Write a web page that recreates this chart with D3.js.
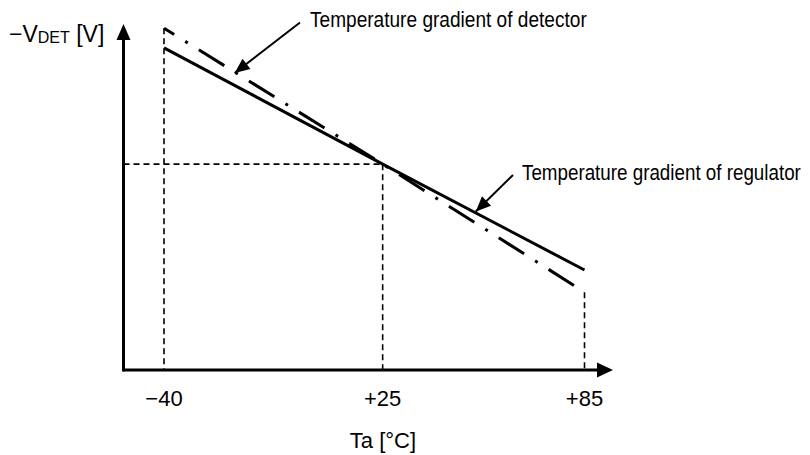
<!DOCTYPE html>
<html>
<head>
<meta charset="utf-8">
<script src="https://cdn.jsdelivr.net/npm/d3@7"></script>
<style>
  html, body { margin: 0; padding: 0; background: #fff; }
  svg { display: block; font-family: "Liberation Sans", Arial, sans-serif; }
</style>
</head>
<body>
<svg id="chart" width="810" height="455"></svg>
<script>
// ---- data ----
const temperatures = [-40, 25, 85];
const tickLabels = ["\u221240", "+25", "+85"];
const regulator = [93.1, 59.5, 28.9];   // Temperature gradient of regulator (relative -VDET)
const detector  = [98.8, 59.5, 22.5];   // Temperature gradient of detector (relative -VDET)
const refTemp = 25;
const refValue = 59.5;
const annotations = [
  { text: "Temperature gradient of detector", series: "detector", temp: -19 },
  { text: "Temperature gradient of regulator", series: "regulator", temp: 52.7 }
];
const xAxisTitle = "Ta [\u00B0C]";

// ---- layout ----
const svg = d3.select("#chart");
const x = d3.scaleLinear().domain([-40, 85]).range([164, 584.5]);
const y = d3.scaleLinear().domain([0, 100]).range([370, 24]);
const axisX0 = 123.5, axisY0 = 370;

const seriesMap = { regulator, detector };
const pts = s => temperatures.map((t, i) => [t, s[i]]);
const line = d3.line().x(d => x(d[0])).y(d => y(d[1]));

// ---- dashed guide lines ----
const guide = svg.append("g")
  .attr("stroke", "#000").attr("stroke-width", 1.6)
  .attr("stroke-dasharray", "6,4").attr("fill", "none");
guide.append("line")
  .attr("x1", x(-40)).attr("x2", x(-40))
  .attr("y1", y(d3.max([detector[0], regulator[0]]))).attr("y2", axisY0);
guide.append("line")
  .attr("x1", x(refTemp)).attr("x2", x(refTemp))
  .attr("y1", y(refValue)).attr("y2", axisY0);
guide.append("line")
  .attr("x1", x(85)).attr("x2", x(85))
  .attr("y1", y(d3.min([detector[2], regulator[2]]))).attr("y2", axisY0);
guide.append("line")
  .attr("x1", axisX0).attr("x2", x(refTemp))
  .attr("y1", y(refValue)).attr("y2", y(refValue));

// ---- series ----
svg.append("path").datum(pts(regulator))
  .attr("d", line).attr("fill", "none")
  .attr("stroke", "#000").attr("stroke-width", 3);
svg.append("path").datum(pts(detector))
  .attr("d", line).attr("fill", "none")
  .attr("stroke", "#000").attr("stroke-width", 3)
  .attr("stroke-dasharray", "30,13,3,13").attr("stroke-dashoffset", 18);

// ---- axes with arrows ----
const ax = svg.append("g");
ax.append("line").attr("x1", axisX0).attr("x2", 598)
  .attr("y1", axisY0).attr("y2", axisY0)
  .attr("stroke", "#000").attr("stroke-width", 3);
ax.append("line").attr("x1", axisX0).attr("x2", axisX0)
  .attr("y1", axisY0 + 1.5).attr("y2", 38)
  .attr("stroke", "#000").attr("stroke-width", 3);
ax.append("path").attr("d", `M613,${axisY0} L597,${axisY0 - 7.5} L597,${axisY0 + 7.5} Z`).attr("fill", "#000");
ax.append("path").attr("d", `M${axisX0},24 L${axisX0 - 7},40 L${axisX0 + 7},40 Z`).attr("fill", "#000");

// ticks labels
svg.append("g").selectAll("text").data(temperatures).join("text")
  .attr("x", d => x(d)).attr("y", 406)
  .attr("text-anchor", "middle").attr("font-size", 22)
  .text((d, i) => tickLabels[i]);

svg.append("text").attr("x", 383).attr("y", 448)
  .attr("text-anchor", "middle").attr("font-size", 22).text(xAxisTitle);

// y axis title
const yt = svg.append("text").attr("x", 9).attr("y", 42).attr("font-size", 23);
yt.append("tspan").text("\u2212V");
yt.append("tspan").attr("font-size", 16).attr("dy", 1).text("DET");
yt.append("tspan").attr("dy", -1).text(" [V]");

// ---- annotations ----
function arrow(g, x1, y1, x2, y2) {
  g.append("line").attr("x1", x1).attr("y1", y1).attr("x2", x2).attr("y2", y2)
    .attr("stroke", "#000").attr("stroke-width", 2);
  const ang = Math.atan2(y2 - y1, x2 - x1);
  const L = 15, W = 6.5;
  const bx = x2 - L * Math.cos(ang), by = y2 - L * Math.sin(ang);
  const px = -Math.sin(ang) * W, py = Math.cos(ang) * W;
  g.append("path")
    .attr("d", `M${x2},${y2} L${bx + px},${by + py} L${bx - px},${by - py} Z`)
    .attr("fill", "#000");
}
// condensed label: scale horizontally to a target width
function condensedText(g, tx, ty, width, str) {
  const t = g.append("text").attr("x", 0).attr("y", 0).attr("font-size", 22).text(str);
  const w = t.node().getComputedTextLength();
  t.attr("transform", `translate(${tx},${ty}) scale(${width / w},1)`);
}
const interp = (s, t) => {
  const arr = seriesMap[s];
  const i = t <= 25 ? 0 : 1;
  const f = (t - temperatures[i]) / (temperatures[i + 1] - temperatures[i]);
  return arr[i] + f * (arr[i + 1] - arr[i]);
};
const annG = svg.append("g");
// detector
{
  const a = annotations[0];
  const tx = x(a.temp), ty = y(interp(a.series, a.temp)) + 1;
  arrow(annG, 300, 22.5, tx, ty);
  condensedText(annG, 310, 26.5, 277, a.text);
}
// regulator
{
  const a = annotations[1];
  const tx = x(a.temp), ty = y(interp(a.series, a.temp)) - 1.5;
  arrow(annG, 513, 175, tx, ty);
  condensedText(annG, 522, 180, 279, a.text);
}
</script>
</body>
</html>
